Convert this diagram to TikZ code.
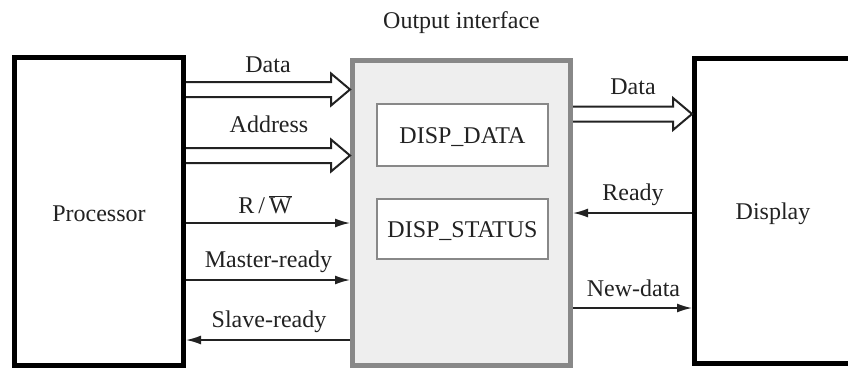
\documentclass[tikz,border=0pt]{standalone}
\usepackage{fontspec}
\setmainfont{Liberation Serif}
\usetikzlibrary{arrows.meta,calc}
\definecolor{ifgray}{HTML}{888888}
\definecolor{iffill}{HTML}{EEEEEE}
\definecolor{txtcol}{HTML}{222222}
\begin{document}
\begin{tikzpicture}[x=1pt,y=-1pt,
  font=\fontsize{24}{28}\selectfont,
  txt/.style={text=txtcol, inner sep=0pt},
  blackbox/.style={draw=black, line width=5pt, fill=white, inner sep=0pt, text=txtcol},
  ifbox/.style={draw=ifgray, line width=5pt, fill=iffill, inner sep=0pt},
  regbox/.style={draw=ifgray, line width=1.5pt, fill=white, inner sep=0pt, text=txtcol},
  bus/.style={draw=txtcol, line width=2pt, line join=miter},
  sig/.style={draw=txtcol, line width=1.6pt, -{Latex[length=15pt,width=9pt]}}
]
\clip (0,0) rectangle (848,368);
\fill[white] (0,0) rectangle (848,368);

% main blocks
\node[blackbox, minimum width=169pt, minimum height=308pt] (proc) at (99,211.5) {};
\node[txt, anchor=base] (proclabel) at (99,221) {Processor};
\node[ifbox, minimum width=218pt, minimum height=305pt] (iface) at (461.5,212.5) {};
\node[regbox, minimum width=171pt, minimum height=62pt] (dd) at (462.5,135) {};
\node[txt, anchor=base] (ddlabel) at (462.5,143) {DISP\_DATA};
\node[regbox, minimum width=171pt, minimum height=60pt] (ds) at (462.5,229) {};
\node[txt, anchor=base] (dslabel) at (462.5,237) {DISP\_STATUS};
\node[blackbox, minimum width=206pt, minimum height=305pt] (disp) at (797.5,211) {};
\node[txt, anchor=base] (displabel) at (773,219) {Display};
\node[txt, anchor=base] (iflabel) at (461.5,28) {Output interface};

% bus arrows
\newcommand\busarrow[2]{%
  \draw[bus] ($(#1)+(0,-7.5)$) -- ($(#2)+(-19,-7.5)$) -- ($(#2)+(-19,-16)$)
    -- (#2) -- ($(#2)+(-19,16)$) -- ($(#2)+(-19,7.5)$) -- ($(#1)+(0,7.5)$);}
\coordinate (dataS) at (proc.east |- 0,89.5);
\coordinate (dataE) at (iface.west |- 0,89.5);
\coordinate (addrS) at (proc.east |- 0,155.5);
\coordinate (addrE) at (iface.west |- 0,155.5);
\coordinate (odataS) at (iface.east |- 0,114);
\coordinate (odataE) at (disp.west |- 0,114);
\busarrow{dataS}{dataE}
\busarrow{addrS}{addrE}
\busarrow{odataS}{odataE}

% signal arrows
\draw[sig] (proc.east |- 0,223) -- (iface.west |- 0,223);
\draw[sig] (proc.east |- 0,280) -- (iface.west |- 0,280);
\draw[sig] (iface.west |- 0,340) -- (proc.east |- 0,340);
\draw[sig] (disp.west |- 0,213) -- (iface.east |- 0,213);
\draw[sig] (iface.east |- 0,308) -- (disp.west |- 0,308);

% labels
\node[txt, anchor=base] (ldata) at (268,72) {Data};
\node[txt, anchor=base] (laddr) at (269,132) {Address};
\node[txt, anchor=base] (lrw) at (265,213) {R\,/\,$\overline{\mbox{W}}$};
\node[txt, anchor=base] (lmr) at (268.5,267) {Master-ready};
\node[txt, anchor=base] (lsr) at (269,327) {Slave-ready};
\node[txt, anchor=base] (lodata) at (633,94) {Data};
\node[txt, anchor=base] (lready) at (633,200) {Ready};
\node[txt, anchor=base] (lnd) at (633.5,296) {New-data};
\end{tikzpicture}
\end{document}
